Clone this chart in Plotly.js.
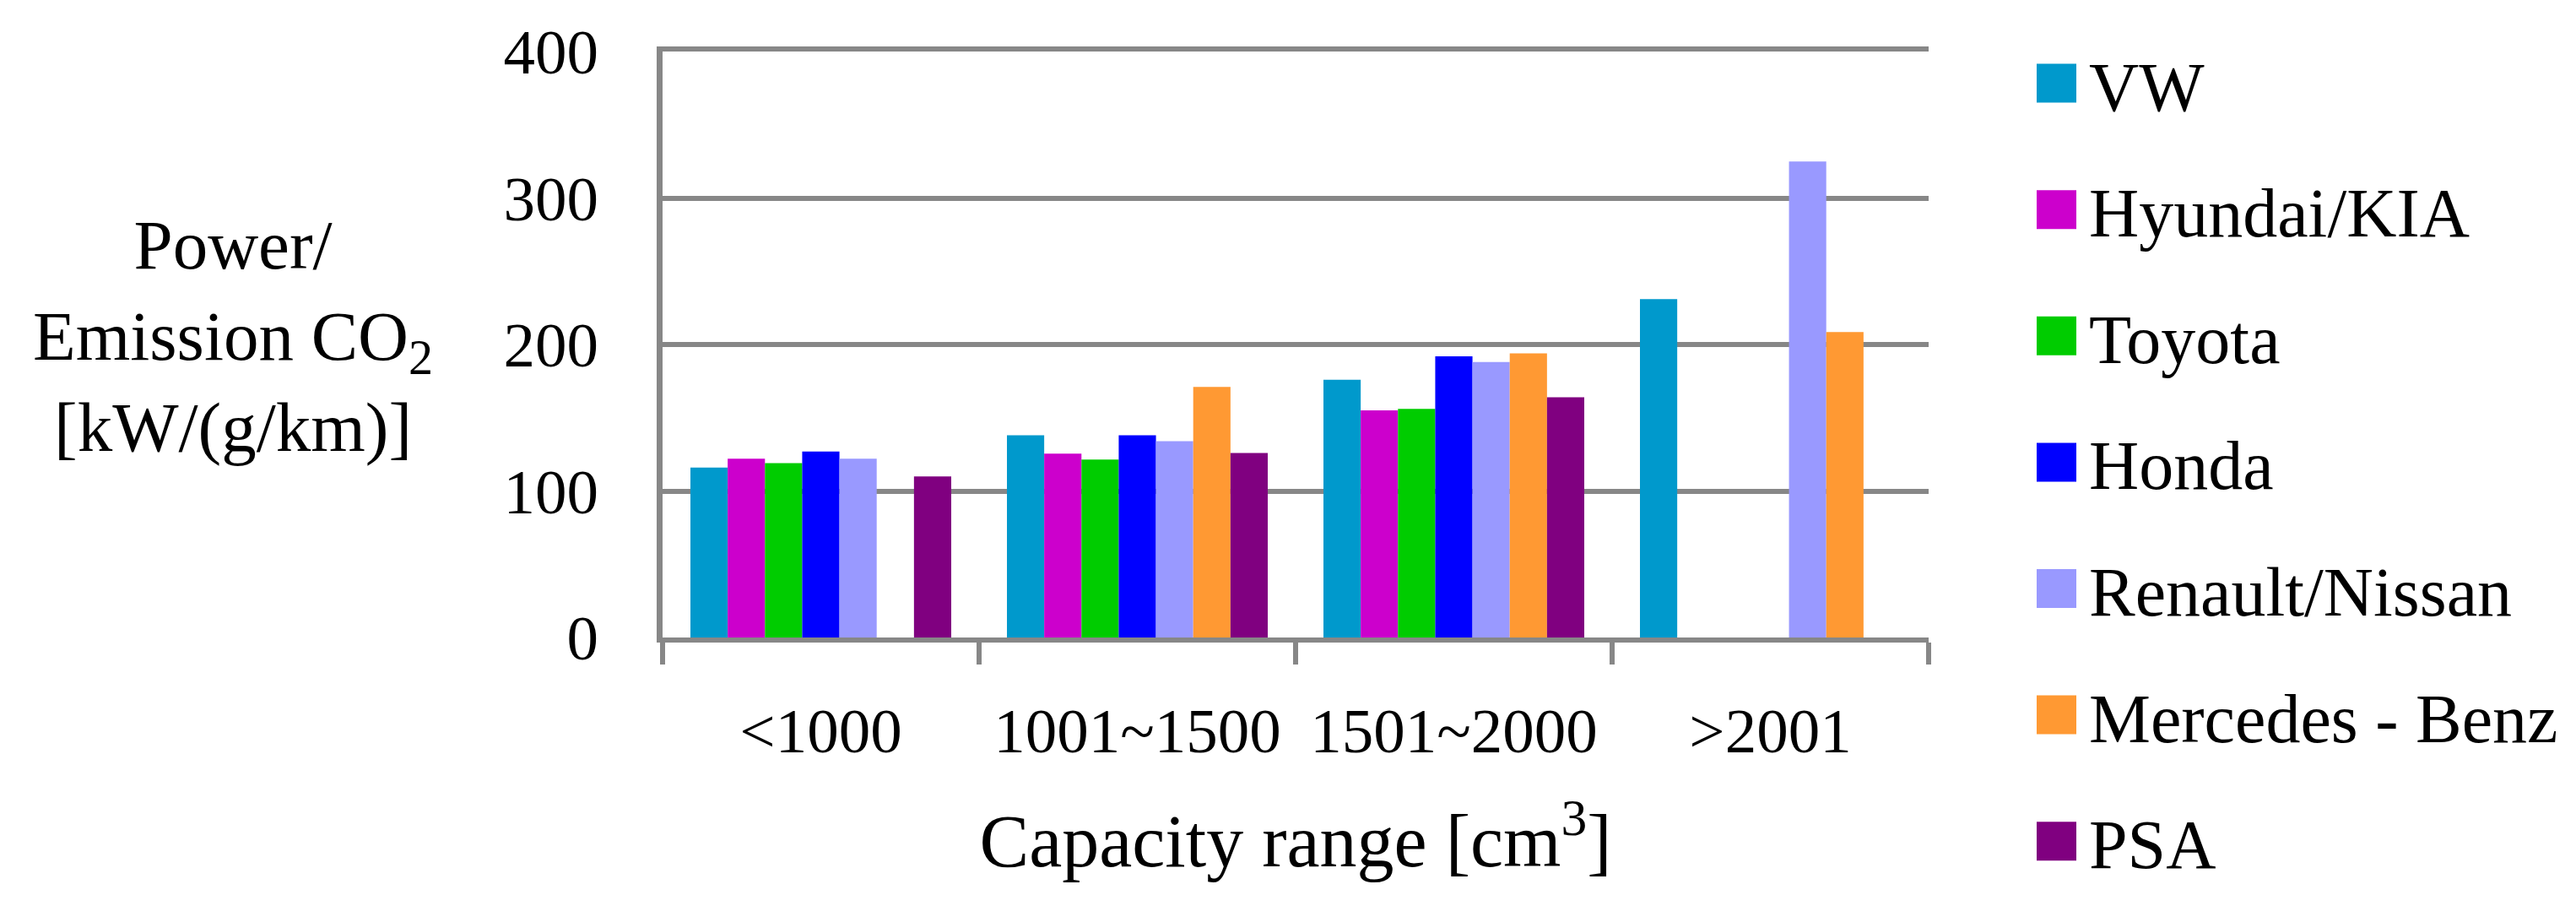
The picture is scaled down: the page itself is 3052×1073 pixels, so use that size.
<!DOCTYPE html>
<html>
<head>
<meta charset="utf-8">
<script src="https://cdn.plot.ly/plotly-3.0.1.min.js"></script>
<style>
  html, body { margin: 0; padding: 0; background: #fff; }
  #chart { width: 3052px; height: 1073px; }
</style>
</head>
<body>
<div id="chart"></div>
<script>
// capacity classes on the x axis
var categories = ["<1000", "1001~1500", "1501~2000", ">2001"];

// power / CO2 emission per maker (null = no bar)
var vw       = [116, 138, 176, 231];
var hyundai  = [122, 125.5, 155, null];
var toyota   = [119, 121.5, 156, null];
var honda    = [127, 138, 192, null];
var renault  = [122, 134, 188, 325];
var mercedes = [null, 171, 194, 208.5];
var psa      = [110, 126, 164, null];

var names  = ["VW", "Hyundai/KIA", "Toyota", "Honda", "Renault/Nissan", "Mercedes - Benz", "PSA"];
var series = [vw, hyundai, toyota, honda, renault, mercedes, psa];
var colors = ["#0099cc", "#cc00cc", "#00cc00", "#0000ff", "#9999ff", "#ff9933", "#800080"];

var FONT = "Liberation Serif, Times New Roman, serif";
var GRAY = "#878787";

var data = [];
for (let i = 0; i < series.length; i++) {
  data.push({
    type: "bar",
    name: names[i],
    x: categories,
    y: series[i],
    legendgroup: "g" + i,
    marker: {color: colors[i], line: {width: 0}},
    hoverinfo: "skip"
  });
}

var layout = {
  width: 3052,
  height: 1073,
  margin: {l: 785, r: 767, t: 61, b: 318},
  paper_bgcolor: "#ffffff",
  plot_bgcolor: "#ffffff",
  font: {family: FONT, color: "#000000", size: 75},
  barmode: "group",
  bargap: 0.176,
  bargroupgap: 0,
  xaxis: {
    type: "category",
    showline: true,
    mirror: true,          // top line doubles as the 400 gridline
    linecolor: GRAY,
    linewidth: 6,
    ticks: "outside",
    tickson: "boundaries",
    ticklen: 26,
    tickwidth: 6,
    tickcolor: GRAY,
    showgrid: false,
    tickfont: {family: FONT, size: 75},
    ticklabelstandoff: 40,
    title: {text: "Capacity range [cm<sup>3</sup>]", font: {family: FONT, size: 88}, standoff: 60},
    automargin: false
  },
  yaxis: {
    range: [0, 400],
    dtick: 100,
    showline: true,
    linecolor: GRAY,
    linewidth: 7,
    showgrid: true,
    gridcolor: GRAY,
    gridwidth: 6,
    zeroline: false,
    ticks: "",
    tickfont: {family: FONT, size: 75},
    ticklabelstandoff: 54,
    automargin: false
  },
  showlegend: true,
  legend: {
    x: 1.1,
    xanchor: "left",
    y: 1.032,
    yanchor: "top",
    traceorder: "grouped",
    tracegroupgap: 40,
    maxheight: 1060,
    font: {family: FONT, size: 82},
    bgcolor: "rgba(0,0,0,0)"
  },
  annotations: [{
    xref: "paper", yref: "paper",
    x: -0.339, y: 0.514,
    xanchor: "center", yanchor: "middle",
    align: "center",
    showarrow: false,
    text: "Power/<br>Emission CO<sub>2</sub><br>[kW/(g/km)]",
    font: {family: FONT, size: 83}
  }]
};

Plotly.newPlot("chart", data, layout, {staticPlot: true}).then(function () {
  // the legend swatches in the original are much larger than plotly's 12px squares
  document.querySelectorAll("#chart .legend [clip-path]").forEach(function (el) {
    el.removeAttribute("clip-path");
  });
  document.querySelectorAll("#chart .legend .legendpoints path").forEach(function (p) {
    p.setAttribute("d", "M5,23H-42V-23H5Z");
  });
});
</script>
</body>
</html>
